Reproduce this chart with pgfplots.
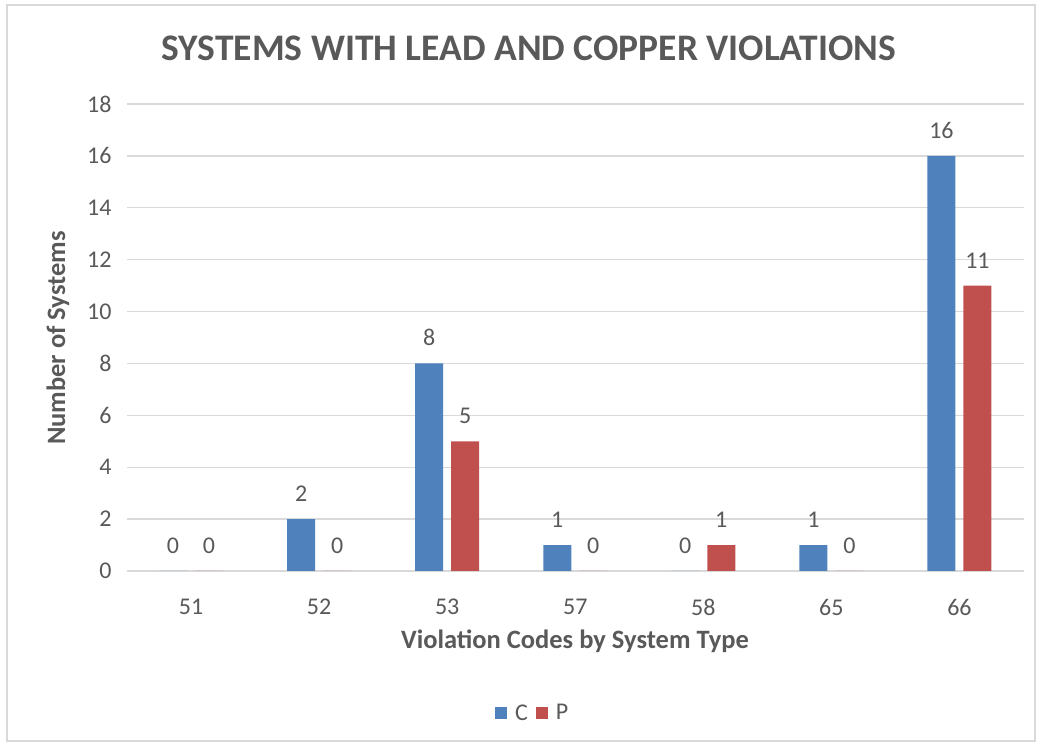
\documentclass[border=0pt]{standalone}
\usepackage{fontspec}
\setmainfont{Carlito}
\usepackage{pgfplots}
\pgfplotsset{compat=1.18}
\definecolor{cblue}{HTML}{4F81BD}
\definecolor{cred}{HTML}{C0504D}
\definecolor{txt}{HTML}{595959}
\definecolor{gridc}{HTML}{D9D9D9}
\begin{document}
\begin{tikzpicture}[x=1pt,y=1pt]
\useasboundingbox (0,0) rectangle (1042,747);
\draw[gridc, line width=1.5pt] (7,6) rectangle (1035,742);
\begin{axis}[
  at={(127pt,176pt)}, anchor=south west,
  scale only axis, width=896.5pt, height=467pt,
  xmin=-0.5, xmax=6.5, ymin=0, ymax=18,
  ytick={0,2,...,18},
  xtick={0,...,6}, xticklabels={51,52,53,57,58,65,66},
  ymajorgrids, grid style={gridc, line width=1.3pt},
  axis line style={draw=none}, tick style={draw=none},
  ybar=8pt, bar width=28pt,
  ticklabel style={font=\fontsize{24}{27}\selectfont, text=txt},
  /pgf/number format/assume math mode=true,
  xticklabel style={yshift=-20pt},
  yticklabel style={xshift=-12pt},
  nodes near coords,
  every node near coord/.append style={font=\fontsize{24}{27}\selectfont, text=txt, yshift=14pt},
  legend style={at={(0.456,-0.304)}, anchor=center, draw=none, legend columns=2,
    font=\fontsize{24}{27}\selectfont, text=txt,
    nodes={inner xsep=8pt},
    /tikz/every even column/.append style={column sep=0pt}},
  legend image code/.code={\fill[#1] (0pt,-6pt) rectangle (12pt,6pt);},
]
\addplot[fill=cblue, draw=none] coordinates {(0,0) (1,2) (2,8) (3,1) (4,0) (5,1) (6,16)};
\addplot[fill=cred, draw=none] coordinates {(0,0) (1,0) (2,5) (3,0) (4,1) (5,0) (6,11)};
\legend{C,P}
\end{axis}
\node[text=txt, font=\fontsize{37.5}{42}\selectfont\bfseries] at (529,699) {SYSTEMS WITH LEAD AND COPPER VIOLATIONS};
\node[text=txt, font=\fontsize{26.5}{30}\selectfont\bfseries] at (575,106) {Violation Codes by System Type};
\node[text=txt, font=\fontsize{26.5}{30}\selectfont\bfseries, rotate=90] at (58,409) {Number of Systems};
\end{tikzpicture}
\end{document}
